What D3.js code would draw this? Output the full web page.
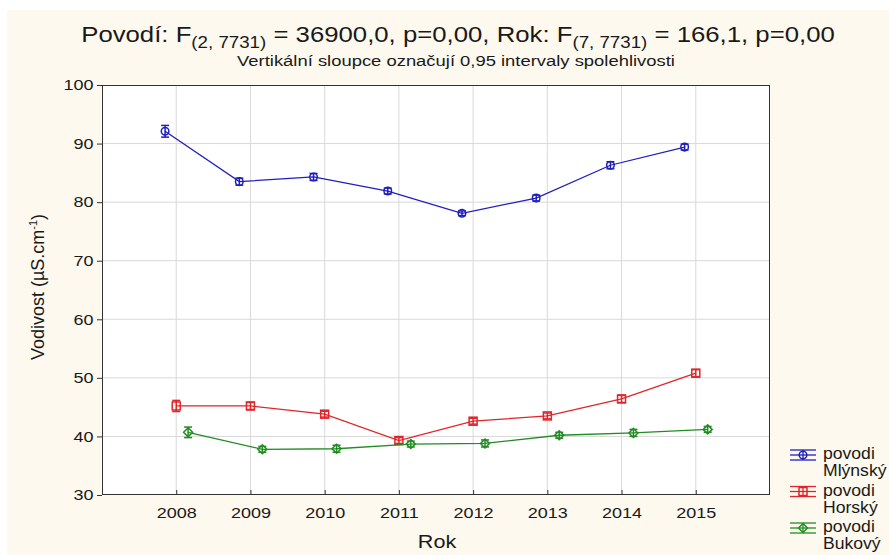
<!DOCTYPE html>
<html>
<head>
<meta charset="utf-8">
<script src="https://cdn.jsdelivr.net/npm/d3@7"></script>
<style>
  body { margin: 0; background: #fff; }
  text { font-family: "Liberation Sans", Arial, sans-serif; fill: #1a1a1a; }
</style>
</head>
<body>
<script>
// data
var years = [2008, 2009, 2010, 2011, 2012, 2013, 2014, 2015];
var mlynsky = [92.1, 83.5, 84.3, 81.9, 78.1, 80.7, 86.3, 89.4];
var mlynskyErr = [1.0, 0.6, 0.6, 0.5, 0.4, 0.5, 0.6, 0.5];
var horsky = [45.2, 45.2, 43.8, 39.3, 42.6, 43.5, 46.4, 50.8];
var horskyErr = [0.95, 0.6, 0.5, 0.5, 0.5, 0.5, 0.6, 0.6];
var bukovy = [40.7, 37.8, 37.9, 38.7, 38.8, 40.2, 40.6, 41.2];
var bukovyErr = [0.9, 0.5, 0.6, 0.5, 0.6, 0.5, 0.6, 0.5];
var yTicks = [30, 40, 50, 60, 70, 80, 90, 100];

var series = [
  {name: "Mlýnský", values: mlynsky, err: mlynskyErr, color: "#1f1fbf", shape: "circle", shift: -0.15},
  {name: "Horský", values: horsky, err: horskyErr, color: "#e0262b", shape: "square", shift: 0},
  {name: "Bukový", values: bukovy, err: bukovyErr, color: "#228b22", shape: "diamond", shift: 0.16}
];

var W = 889, H = 555;
var margin = {left: 102, right: 119, top: 85, bottom: 60};

var svg = d3.select("body").append("svg")
  .attr("width", W).attr("height", H);

svg.append("rect").attr("x", 7).attr("y", 10).attr("width", W - 7).attr("height", H - 10)
  .attr("fill", "#fdf9ee");

var xScale = d3.scaleLinear().domain([2007, 2016]).range([margin.left, W - margin.right]);
var yScale = d3.scaleLinear().domain([30, 100]).range([H - margin.bottom, margin.top]);

var plotW = W - margin.left - margin.right;
var plotH = H - margin.top - margin.bottom;

// the original picture is a bit stretched sideways, so text gets a scaleX
function wideText(parent, x, y, sx, size) {
  return parent.append("text")
    .attr("transform", "translate(" + x + "," + y + ") scale(" + sx + ",1)")
    .style("font-size", size + "px");
}

svg.append("rect").attr("x", margin.left).attr("y", margin.top)
  .attr("width", plotW).attr("height", plotH).attr("fill", "#fff");

// grid
var grid = svg.append("g");
grid.selectAll(".gx").data(years).enter().append("line")
  .attr("x1", function(d) { return xScale(d); }).attr("x2", function(d) { return xScale(d); })
  .attr("y1", margin.top).attr("y2", H - margin.bottom)
  .attr("stroke", "#d9d9d9").attr("stroke-width", 1);
grid.selectAll(".gy").data(yTicks.slice(1, -1)).enter().append("line")
  .attr("y1", function(d) { return yScale(d); }).attr("y2", function(d) { return yScale(d); })
  .attr("x1", margin.left).attr("x2", W - margin.right)
  .attr("stroke", "#d9d9d9").attr("stroke-width", 1);

// axes
var xAxis = d3.axisBottom(xScale).tickValues(years).tickFormat(d3.format("d")).tickSizeInner(-5).tickSizeOuter(0).tickPadding(12);
var yAxis = d3.axisLeft(yScale).tickValues(yTicks).tickSizeInner(5).tickSizeOuter(0).tickPadding(3);

var xg = svg.append("g").attr("transform", "translate(0," + (H - margin.bottom) + ")").call(xAxis);
var yg = svg.append("g").attr("transform", "translate(" + margin.left + ",0)").call(yAxis);
[xg, yg].forEach(function(g) {
  g.select(".domain").remove();
  g.selectAll("line").attr("stroke", "#333");
  g.selectAll("text").style("font-size", "15px").attr("fill", "#1a1a1a")
    .attr("transform", "scale(1.2,1)");
});
yg.selectAll("text").attr("x", -7);

svg.append("rect").attr("x", margin.left + 0.5).attr("y", margin.top + 0.5)
  .attr("width", plotW - 1).attr("height", plotH - 1)
  .attr("fill", "none").attr("stroke", "#333").attr("stroke-width", 1);

// series
function marker(g, shape, color, cx, cy) {
  if (shape === "circle") {
    g.append("circle").attr("cx", cx).attr("cy", cy).attr("r", 3.8)
      .attr("fill", "none").attr("stroke", color).attr("stroke-width", 1.5);
  } else if (shape === "square") {
    g.append("rect").attr("x", cx - 4).attr("y", cy - 4).attr("width", 8).attr("height", 8)
      .attr("fill", "none").attr("stroke", color).attr("stroke-width", 1.5);
  } else {
    g.append("path").attr("d", "M" + cx + "," + (cy - 4.5) + "L" + (cx + 4.5) + "," + cy + "L" + cx + "," + (cy + 4.5) + "L" + (cx - 4.5) + "," + cy + "Z")
      .attr("fill", "none").attr("stroke", color).attr("stroke-width", 1.5);
  }
}

series.forEach(function(s) {
  var g = svg.append("g");
  var line = d3.line()
    .x(function(d, i) { return xScale(years[i] + s.shift); })
    .y(function(d) { return yScale(d); });
  g.append("path").datum(s.values).attr("d", line)
    .attr("fill", "none").attr("stroke", s.color).attr("stroke-width", 1.3);
  s.values.forEach(function(v, i) {
    var cx = xScale(years[i] + s.shift);
    var y1 = yScale(v - s.err[i]), y2 = yScale(v + s.err[i]);
    g.append("line").attr("x1", cx).attr("x2", cx).attr("y1", y1).attr("y2", y2)
      .attr("stroke", s.color).attr("stroke-width", 1.5);
    [y1, y2].forEach(function(yy) {
      g.append("line").attr("x1", cx - 4).attr("x2", cx + 4).attr("y1", yy).attr("y2", yy)
        .attr("stroke", s.color).attr("stroke-width", 1.5);
    });
    marker(g, s.shape, s.color, cx, yScale(v));
  });
});

// legend
var legend = svg.append("g");
series.forEach(function(s, i) {
  var ly = 455 + i * 36.5;
  var lg = legend.append("g");
  [-5, 0, 5].forEach(function(dy) {
    lg.append("line").attr("x1", 790).attr("x2", 816).attr("y1", ly + dy).attr("y2", ly + dy)
      .attr("stroke", s.color).attr("stroke-width", 1.3);
  });
  lg.append("line").attr("x1", 803).attr("x2", 803).attr("y1", ly - 5).attr("y2", ly + 5)
    .attr("stroke", s.color).attr("stroke-width", 1.3);
  marker(lg, s.shape, s.color, 803, ly);
  wideText(lg, 823, ly + 4, 1.1, 16).text("povodi");
  wideText(lg, 823, ly + 21, 1.1, 16).text(s.name);
});

// titles
var title = wideText(svg, 458, 42, 1.17, 22).attr("text-anchor", "middle");
title.append("tspan").text("Povodí: F");
title.append("tspan").attr("dy", 6).style("font-size", "16px").text("(2, 7731)");
title.append("tspan").attr("dy", -6).text(" = 36900,0, p=0,00, Rok: F");
title.append("tspan").attr("dy", 6).style("font-size", "16px").text("(7, 7731)");
title.append("tspan").attr("dy", -6).text(" = 166,1, p=0,00");

wideText(svg, 456, 66, 1.27, 14.5).attr("text-anchor", "middle")
  .text("Vertikální sloupce označují 0,95 intervaly spolehlivosti");

wideText(svg, 437, 548, 1.2, 18).attr("text-anchor", "middle").text("Rok");

var yl = svg.append("text").attr("transform", "translate(44,287) rotate(-90)")
  .attr("text-anchor", "middle").style("font-size", "18px");
yl.append("tspan").text("Vodivost (µS.cm");
yl.append("tspan").attr("dy", -7).style("font-size", "11px").text("-1");
yl.append("tspan").attr("dy", 7).text(")");
</script>
</body>
</html>
